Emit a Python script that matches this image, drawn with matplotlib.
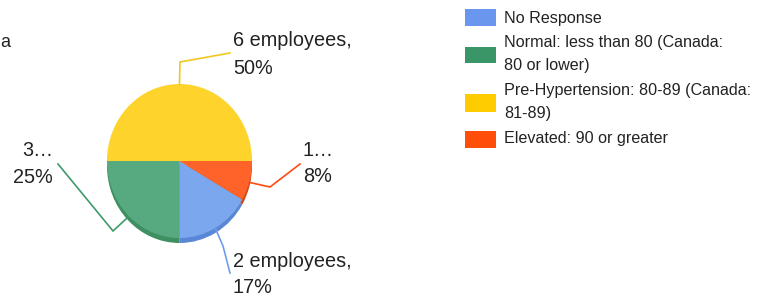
import matplotlib
matplotlib.use("Agg")
import matplotlib.pyplot as plt
from matplotlib.patches import Rectangle
import numpy as np

plt.rcParams['font.family'] = ['Liberation Sans', 'DejaVu Sans']

# data
categories = ["No Response",
              "Normal: less than 80 (Canada:\n80 or lower)",
              "Pre-Hypertension: 80-89 (Canada:\n81-89)",
              "Elevated: 90 or greater"]
employees = [2, 3, 6, 1]
slice_text = [["2 employees,", "17%"], ["3\u2026", "25%"],
              ["6 employees,", "50%"], ["1\u2026", "8%"]]

face_colors = ["#7BA7EE", "#57AA80", "#FDD32C", "#FF6329"]
rim_colors = ["#5A86D6", "#3E8F62", "#E0B820", "#CF4A18"]
legend_colors = ["#6A96EE", "#3B9667", "#FFCC00", "#FF4D0A"]
line_colors = ["#6D9EEB", "#3D9B6A", "#F2C71E", "#FF4A0F"]

# layout (pixels, y down)
W, H = 761, 296
cx, cy, rx, ry = 179.5, 161, 72.5, 77
rim_depth = 5
start_angle = 330

# leader line bends / ends and label anchors
elbows = [[(223, 246), (230, 273)],
          [(113, 231), (58, 164)],
          [(180, 62), (230, 53)],
          [(270, 187), (300, 164)]]
label_x = [233, 53, 233, 303]
label_ha = ["left", "right", "left", "left"]
label_base = [(267, 293), (156, 183), (46, 74), (156, 182)]

fig = plt.figure(figsize=(W / 100, H / 100), dpi=100)

# pie axes, scaled so a unit pie becomes an rx by ry ellipse
pax = fig.add_axes([0, 0, 1, 1])
pax.pie(employees, colors=rim_colors, startangle=start_angle, counterclock=False,
        center=(0, -rim_depth / ry), radius=1, wedgeprops=dict(linewidth=0))
pax.pie(employees, colors=face_colors, startangle=start_angle, counterclock=False,
        center=(0, 0), radius=1, wedgeprops=dict(linewidth=0))
pax.set_aspect('auto')
pax.set_xlim(-cx / rx, (W - cx) / rx)
pax.set_ylim(-(H - cy) / ry, cy / ry)
pax.axis('off')

# overlay in pixel coordinates
ax = fig.add_axes([0, 0, 1, 1])
ax.set_xlim(0, W)
ax.set_ylim(H, 0)
ax.axis('off')
ax.patch.set_alpha(0)

total = sum(employees)
theta = start_angle
for i, v in enumerate(employees):
    span = v / total * 360
    mid = np.deg2rad(theta - span / 2)
    theta -= span
    ax0 = cx + rx * np.cos(mid)
    ay0 = cy - ry * np.sin(mid)
    if np.sin(mid) < 0:
        ay0 += rim_depth * 0.3
    xs = [ax0] + [p[0] for p in elbows[i]]
    ys = [ay0] + [p[1] for p in elbows[i]]
    ax.plot(xs, ys, color=line_colors[i], lw=1.2, solid_joinstyle='miter')
    for line, yb in zip(slice_text[i], label_base[i]):
        ax.text(label_x[i], yb, line, ha=label_ha[i], va='baseline',
                fontsize=14.3, color="#222222")

# legend
swatch_y = [(9, 26), (47, 63), (94, 112), (131, 148)]
legend_base = [(23.3,), (46.7, 70), (95, 118.3), (143.3,)]
for i, name in enumerate(categories):
    y0, y1 = swatch_y[i]
    ax.add_patch(Rectangle((465, y0), 31, y1 - y0, color=legend_colors[i], lw=0))
    for line, yb in zip(name.split("\n"), legend_base[i]):
        ax.text(504, yb, line, ha='left', va='baseline', fontsize=11.6, color="#222222")

# clipped title remnant
fig.text(0.0, 1 - 47 / H, "a", ha='left', va='baseline', fontsize=13, color="#222222")

fig.savefig("out.png", dpi=100)
